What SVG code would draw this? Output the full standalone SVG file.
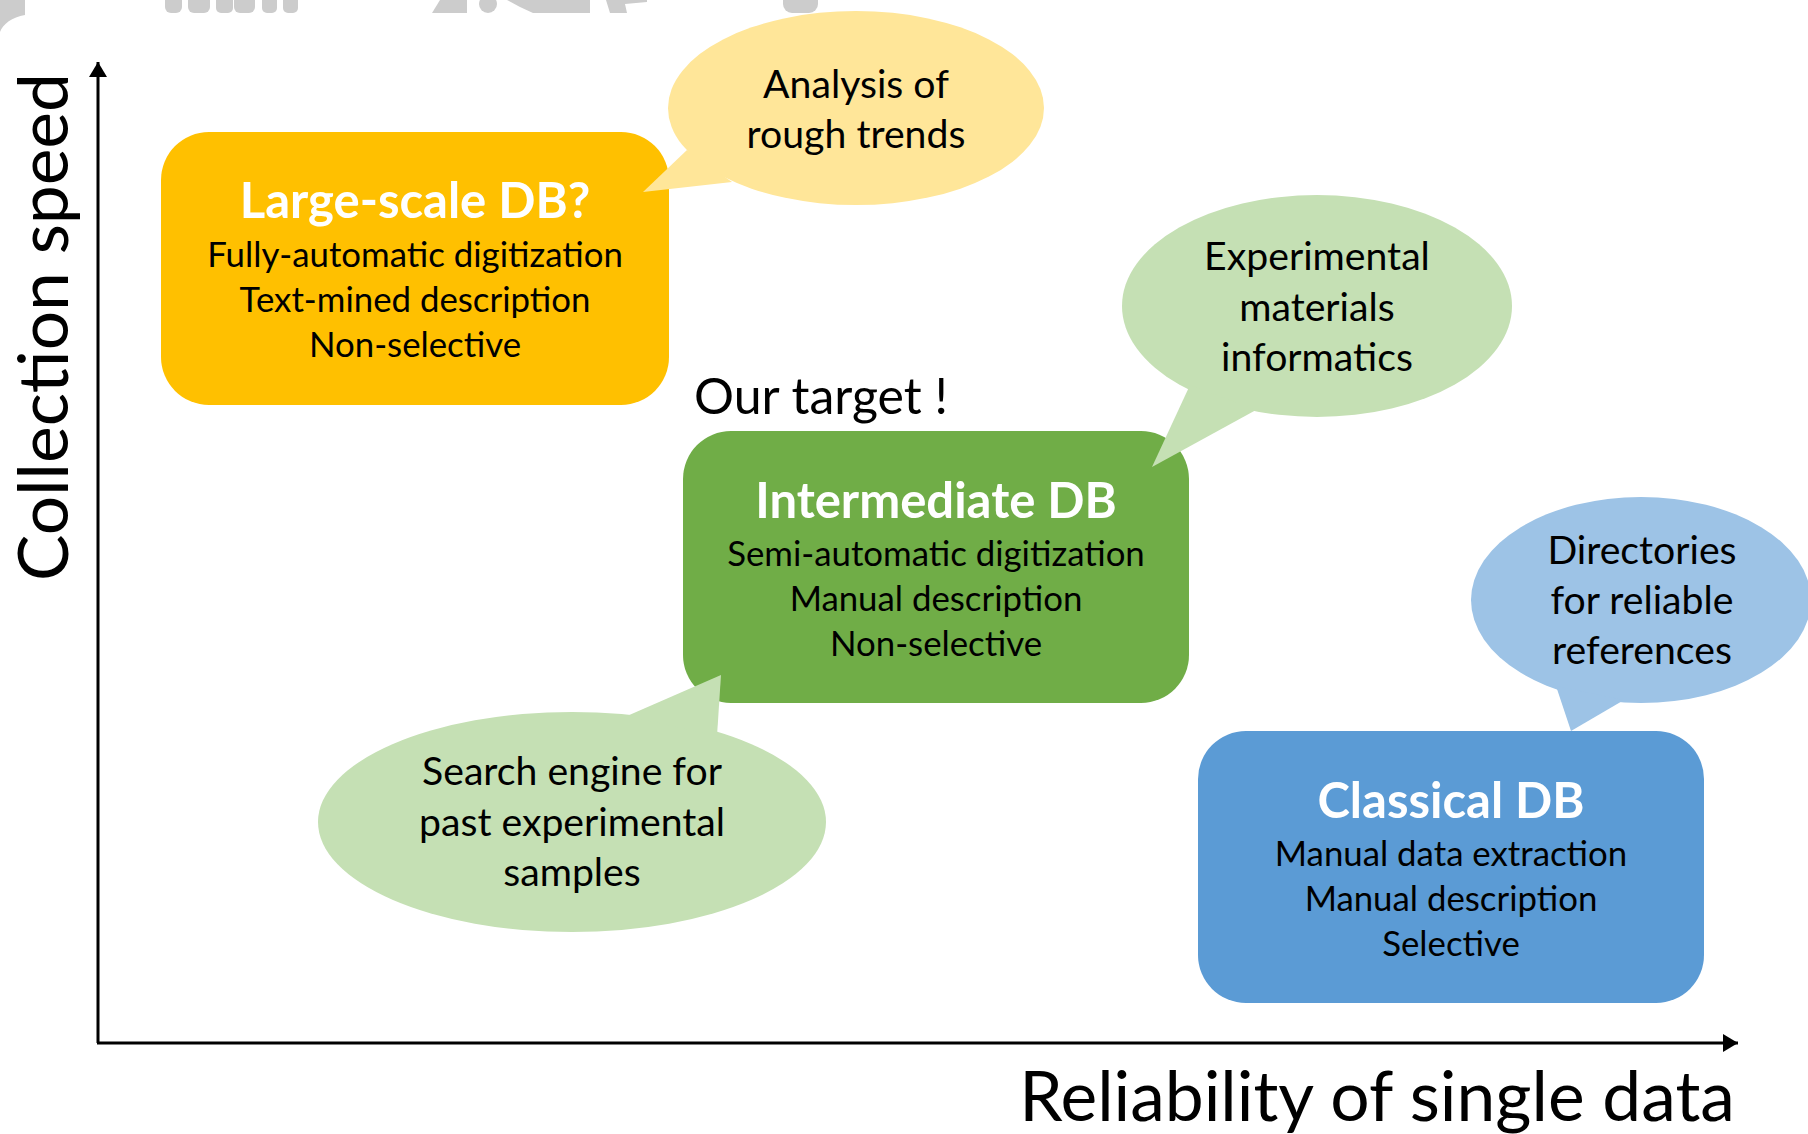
<svg xmlns="http://www.w3.org/2000/svg" width="1808" height="1134" viewBox="0 0 1808 1134">
  <style>
    .t { font-family: Lato, "Open Sans", "Liberation Sans", sans-serif; text-anchor: middle; fill: #000; }
    .title { font-family: Lato, "Open Sans", "Liberation Sans", sans-serif; text-anchor: middle; fill: #fff; font-weight: bold; font-size: 49px; }
    .line { font-size: 34.8px; }
    .bub { font-size: 39.2px; }
    .axis { font-size: 69.5px; }
    .gray { fill: #cccccc; }
  </style>
  <defs>
    <marker id="arr" markerWidth="6" markerHeight="6" refX="5" refY="3" orient="auto" markerUnits="strokeWidth">
      <path d="M0,0 L5,3 L0,6 Z" fill="#000"/>
    </marker>
  </defs>
  <rect width="1808" height="1134" fill="#fff"/>

  <g id="background-remnants">
    <path class="gray" d="M0,0 H25 V15 C12,17 3,24 0,32 Z"/>
    <rect class="gray" x="165" y="-10" width="17" height="23" rx="6"/>
    <rect class="gray" x="188" y="-10" width="22" height="23" rx="6"/>
    <rect class="gray" x="216" y="-10" width="17" height="23" rx="5"/>
    <rect class="gray" x="234" y="-10" width="21" height="23" rx="6"/>
    <rect class="gray" x="262" y="-10" width="15" height="23" rx="5"/>
    <rect class="gray" x="283" y="-10" width="15" height="23" rx="5"/>
    <polygon class="gray" points="440,0 467,0 467,13 432,13"/>
    <ellipse class="gray" cx="488" cy="4" rx="9" ry="9"/>
    <polygon class="gray" points="507,0 590,0 590,13 533,13 520,7"/>
    <polygon class="gray" points="606,0 647,0 647,2 625,4 627,13 610,13"/>
    <rect class="gray" x="783" y="-10" width="35" height="23" rx="9"/>
  </g>

  <g id="connectors">
    <line x1="98" y1="1043" x2="98" y2="62" stroke="#000" stroke-width="3" marker-end="url(#arr)"/>
    <line x1="97" y1="1043" x2="1738" y2="1043" stroke="#000" stroke-width="3" marker-end="url(#arr)"/>
  </g>

  <g id="axis-y-label">
    <text class="t axis" transform="translate(68,327) rotate(-90)">Collection speed</text>
  </g>
  <g id="axis-x-label">
    <text class="t axis" x="1377" y="1121">Reliability of single data</text>
  </g>

  <g id="large-scale-db">
    <rect x="161" y="132" width="508" height="273" rx="48" fill="#ffc000"/>
    <text class="title" x="415" y="218">Large-scale DB?</text>
    <text class="t line" x="415" y="267">Fully-automatic digitization</text>
    <text class="t line" x="415" y="312">Text-mined description</text>
    <text class="t line" x="415" y="357">Non-selective</text>
  </g>

  <g id="intermediate-db">
    <rect x="683" y="431" width="506" height="272" rx="48" fill="#70ad47"/>
    <text class="title" x="936" y="518">Intermediate DB</text>
    <text class="t line" x="936" y="566">Semi-automatic digitization</text>
    <text class="t line" x="936" y="611">Manual description</text>
    <text class="t line" x="936" y="656">Non-selective</text>
  </g>

  <g id="classical-db">
    <rect x="1198" y="731" width="506" height="272" rx="48" fill="#5b9bd5"/>
    <text class="title" x="1451" y="818">Classical DB</text>
    <text class="t line" x="1451" y="866">Manual data extraction</text>
    <text class="t line" x="1451" y="911">Manual description</text>
    <text class="t line" x="1451" y="956">Selective</text>
  </g>

  <g id="our-target">
    <text x="694" y="414" style="font-family: Lato, 'Open Sans', 'Liberation Sans', sans-serif; font-size: 50px; fill: #000;">Our target !</text>
  </g>

  <g id="bubble-rough-trends">
    <ellipse cx="856" cy="108" rx="188" ry="97" fill="#ffe699"/>
    <polygon points="687,150 643,192 732,182" fill="#ffe699"/>
    <text class="t bub" x="856" y="98">Analysis of</text>
    <text class="t bub" x="856" y="148">rough trends</text>
  </g>

  <g id="bubble-materials-informatics">
    <ellipse cx="1317" cy="306" rx="195" ry="111" fill="#c5e0b4"/>
    <polygon points="1190,385 1152,467 1256,410" fill="#c5e0b4"/>
    <text class="t bub" x="1317" y="270">Experimental</text>
    <text class="t bub" x="1317" y="321">materials</text>
    <text class="t bub" x="1317" y="371">informatics</text>
  </g>

  <g id="bubble-search-engine">
    <ellipse cx="572" cy="822" rx="254" ry="110" fill="#c5e0b4"/>
    <polygon points="627,716 721,675 717,736" fill="#c5e0b4"/>
    <text class="t bub" x="572" y="785">Search engine for</text>
    <text class="t bub" x="572" y="836">past experimental</text>
    <text class="t bub" x="572" y="886">samples</text>
  </g>

  <g id="bubble-directories">
    <ellipse cx="1641" cy="600" rx="170" ry="103" fill="#9dc3e6"/>
    <polygon points="1556,686 1571,731 1624,700" fill="#9dc3e6"/>
    <text class="t bub" x="1642" y="564">Directories</text>
    <text class="t bub" x="1642" y="614">for reliable</text>
    <text class="t bub" x="1642" y="664">references</text>
  </g>
</svg>
